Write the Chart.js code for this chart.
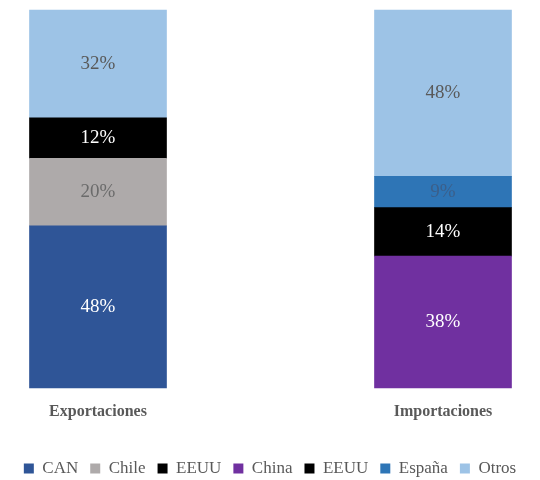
<!DOCTYPE html>
<html>
<head>
<meta charset="utf-8">
<script src="https://cdn.jsdelivr.net/npm/chart.js@4"></script>
<style>
  html, body { margin: 0; padding: 0; background: #fff; }
  #wrap { width: 540px; height: 480px; }
</style>
</head>
<body>
<div id="wrap"><canvas id="myChart"></canvas></div>
<script>
// Categories (two bars)
const categories = ["Exportaciones", "Importaciones"];

// Series values in percent, as printed on the bars
const canValues = [48, null];
const chileValues = [20, null];
const eeuuExpValues = [12, null];
const chinaValues = [null, 38];
const eeuuImpValues = [null, 14];
const espanaValues = [null, 9];
const otrosValues = [32, 48];

const seriesNames = ["CAN", "Chile", "EEUU", "China", "EEUU", "España", "Otros"];
const seriesValues = [canValues, chileValues, eeuuExpValues, chinaValues, eeuuImpValues, espanaValues, otrosValues];
const seriesColors = ["#2F5597", "#AEAAAA", "#000000", "#7030A0", "#000000", "#2E75B6", "#9DC3E6"];
const labelColors = ["#ffffff", "#6b6b6b", "#ffffff", "#ffffff", "#ffffff", "#3b5f8a", "#595959"];

const FONT = "'Liberation Serif', 'DejaVu Serif', serif";

// each bar is drawn as a 100% stack, so share = value / bar total
const barTotals = categories.map((c, i) =>
  seriesValues.reduce((sum, s) => sum + (s[i] || 0), 0)
);

const datasets = seriesValues.map((vals, k) => ({
  label: seriesNames[k],
  data: vals.map((v, i) => (v === null ? null : v / barTotals[i])),
  backgroundColor: seriesColors[k],
  borderWidth: 0,
  barThickness: 137,
  clip: false,
}));

// Draw the value labels in the middle of each segment
const valueLabels = {
  id: "valueLabels",
  afterDatasetsDraw(chart) {
    const ctx = chart.ctx;
    ctx.save();
    ctx.font = "19px " + FONT;
    ctx.textAlign = "center";
    ctx.textBaseline = "middle";
    chart.data.datasets.forEach((ds, k) => {
      const meta = chart.getDatasetMeta(k);
      meta.data.forEach((bar, i) => {
        const v = seriesValues[k][i];
        if (v === null) return;
        const y = (bar.y + bar.base) / 2;
        ctx.fillStyle = labelColors[k];
        ctx.fillText(v + "%", bar.x, y);
      });
    });
    ctx.restore();
  },
};

// empty side axes just reserve room so the bar centres land where they should
const spacerAxis = (pos, w) => ({
  position: pos,
  display: true,
  grid: { display: false },
  border: { display: false },
  ticks: { display: false },
  afterFit: (scale) => { scale.width = w; },
});

new Chart(document.getElementById("myChart"), {
  type: "bar",
  data: { labels: categories, datasets: datasets },
  plugins: [valueLabels],
  options: {
    responsive: true,
    maintainAspectRatio: false,
    animation: false,
    layout: { padding: { left: 0, right: 0, top: 10, bottom: -7 } },
    scales: {
      x: {
        stacked: true,
        offset: false,
        grid: { display: false },
        border: { display: false },
        ticks: {
          color: "#595959",
          font: { family: FONT, size: 16, weight: "bold" },
          padding: 6,
        },
        // extra room between the category names and the legend
        afterFit: (scale) => { scale.height += 21; },
      },
      y: Object.assign(spacerAxis("left", 98), { stacked: true, min: 0, max: 1 }),
      yRight: spacerAxis("right", 97),
    },
    plugins: {
      tooltip: { enabled: false },
      legend: {
        position: "bottom",
        labels: {
          color: "#595959",
          font: { family: FONT, size: 17 },
          boxWidth: 10,
          boxHeight: 10,
          padding: 12,
        },
      },
    },
  },
});
</script>
</body>
</html>
